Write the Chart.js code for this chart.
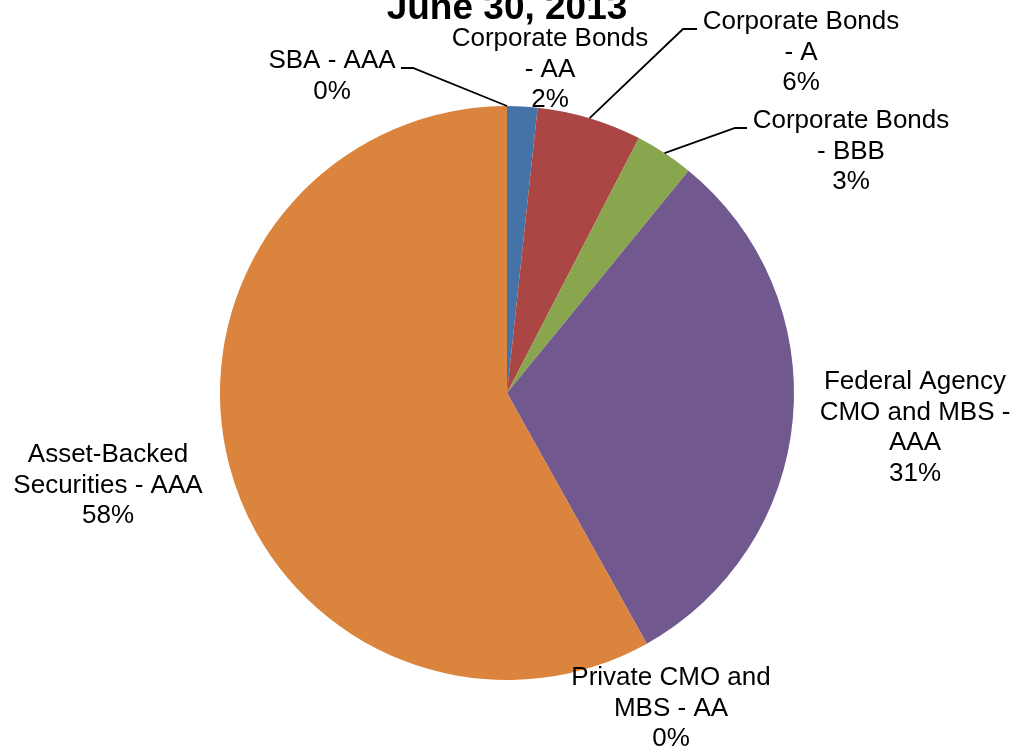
<!DOCTYPE html>
<html>
<head>
<meta charset="utf-8">
<title>Portfolio by Rating - June 30, 2013</title>
<script src="https://cdn.jsdelivr.net/npm/chart.js@4/dist/chart.umd.min.js"></script>
<style>
  html, body { margin: 0; padding: 0; background: #ffffff; }
  #wrap { width: 1018px; height: 751px; position: relative; }
</style>
</head>
<body>
<div id="wrap"><canvas id="chart" width="1018" height="751"></canvas></div>
<script>
// Holdings by security type and rating (percent of portfolio), clockwise from 12 o'clock
const categories = [
  ['Corporate Bonds', '- AA'],
  ['Corporate Bonds', '- A'],
  ['Corporate Bonds', '- BBB'],
  ['Federal Agency', 'CMO and MBS -', 'AAA'],
  ['Private CMO and', 'MBS - AA'],
  ['Asset-Backed', 'Securities - AAA'],
  ['SBA - AAA']
];
const shares = [1.7, 5.9, 3.3, 31.0, 0, 58.1, 0];
const sliceColors = ['#4572A7', '#AA4643', '#89A54E', '#71588F', '#4198AF', '#DB843D', '#93A9CF'];
const titleText = 'June 30, 2013';

const FONT = '"Liberation Sans", Arial, Helvetica, sans-serif';

// Where each data label sits (centre x, first baseline) and the elbow of its leader line, if any
const labelPlacement = [
  { x: 550, y: 46 },
  { x: 801, y: 29, elbow: [[697, 29], [683, 29]] },
  { x: 851, y: 128, elbow: [[747, 128], [735, 128]] },
  { x: 915, y: 389 },
  { x: 671, y: 685 },
  { x: 108, y: 462 },
  { x: 332, y: 68, elbow: [[401, 68], [413, 68]] }
];
const LINE_GAP = 30.7;

const total = shares.reduce((a, b) => a + b, 0);

const pieLabels = {
  id: 'pieLabels',
  afterDatasetsDraw(chart) {
    const ctx = chart.ctx;
    const arcs = chart.getDatasetMeta(0).data;
    ctx.save();
    // leader lines
    ctx.strokeStyle = '#000000';
    ctx.lineWidth = 1.8;
    arcs.forEach((arc, i) => {
      const p = labelPlacement[i];
      if (!p.elbow) return;
      const mid = (arc.startAngle + arc.endAngle) / 2;
      const ex = arc.x + Math.cos(mid) * arc.outerRadius;
      const ey = arc.y + Math.sin(mid) * arc.outerRadius;
      ctx.beginPath();
      ctx.moveTo(p.elbow[0][0], p.elbow[0][1]);
      ctx.lineTo(p.elbow[1][0], p.elbow[1][1]);
      ctx.lineTo(ex, ey);
      ctx.stroke();
    });
    // label text
    ctx.fillStyle = '#000000';
    ctx.font = '26px ' + FONT;
    ctx.textAlign = 'center';
    ctx.textBaseline = 'alphabetic';
    categories.forEach((lines, i) => {
      const p = labelPlacement[i];
      const pct = Math.round(shares[i] / total * 100) + '%';
      lines.concat([pct]).forEach((t, k) => {
        ctx.fillText(t, p.x, p.y + k * LINE_GAP);
      });
    });
    // title
    ctx.font = 'bold 37px ' + FONT;
    ctx.fillText(titleText, 507, 19);
    ctx.restore();
  }
};

new Chart(document.getElementById('chart'), {
  type: 'pie',
  data: {
    labels: categories,
    datasets: [{
      data: shares,
      backgroundColor: sliceColors,
      borderWidth: 0
    }]
  },
  options: {
    responsive: false,
    animation: false,
    rotation: 0,
    layout: { padding: { top: 106, bottom: 71, left: 0, right: 4 } },
    plugins: {
      legend: { display: false },
      tooltip: { enabled: false },
      title: { display: false }
    }
  },
  plugins: [pieLabels]
});
</script>
</body>
</html>
